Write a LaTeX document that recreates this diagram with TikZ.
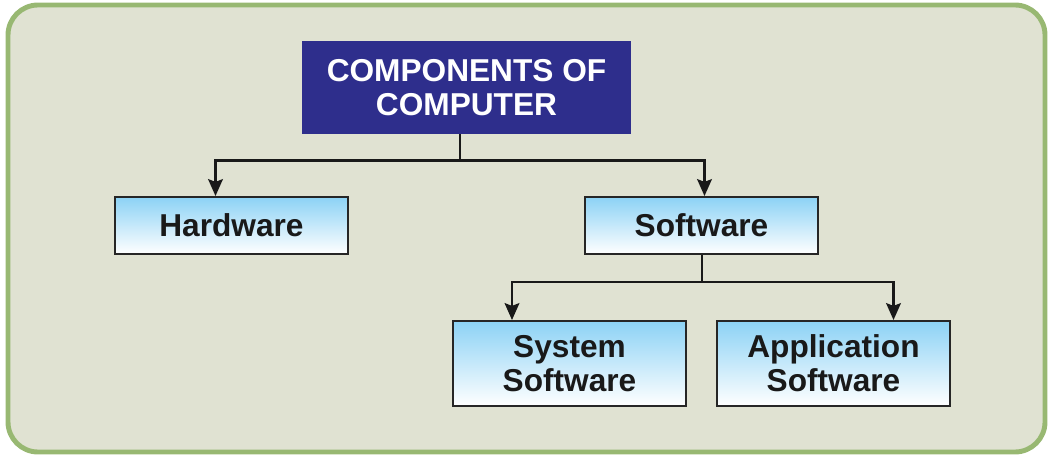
\documentclass[tikz,border=0pt]{standalone}
\usepackage{fontspec}
\setmainfont{Liberation Sans}
\usepackage{tikz}
\usetikzlibrary{arrows, arrows.meta, calc, positioning}
\tikzset{>={Stealth[length=12pt, width=10.5pt, inset=2pt]}}
\definecolor{panel}{RGB}{224,226,210}
\definecolor{panelline}{RGB}{152,184,114}
\definecolor{titleblue}{RGB}{46,46,140}
\definecolor{boxtop}{RGB}{140,210,245}
\tikzset{
  partbox/.style={draw=black!85, line width=1.4pt, top color=boxtop, bottom color=white,
    minimum width=5.825cm, inner sep=0pt, align=center, text=black!90,
    font=\fontsize{22.5}{24}\selectfont\bfseries},
  link/.style={line width=1.6pt, black!90}
}

\begin{document}
\begin{tikzpicture}[x=0.025cm, y=-0.025cm]
\useasboundingbox (0,0) rectangle (1051,458);
\draw[panelline, fill=panel, line width=3.5pt, rounded corners=0.75cm](8,5) rectangle (1045,452);
\node[fill=titleblue, text=white, minimum width=8.225cm, minimum height=2.325cm, inner sep=0pt,
  align=center, font=\fontsize{22.5}{24}\selectfont\bfseries] (comp) at (466.5,87.5) {COMPONENTS OF\\COMPUTER};
\node[partbox, minimum height=1.425cm] (hw) at (231.5,225.5) {Hardware};
\node[partbox, minimum height=1.425cm] (sw) at (701.5,225.5) {Software};
\node[partbox, minimum height=2.125cm] (sys) at (569.5,363.5) {System\\Software};
\node[partbox, minimum height=2.125cm] (app) at (833.5,363.5) {Application\\Software};
% junctions
\coordinate (j1) at (460,160.5);
\coordinate (j2) at (702,282);
\draw[link] (comp.south -| j1) -- (j1);
\draw[link, ->] (j1) -| ($(hw.north)+(-16,0)$);
\draw[link, ->] (j1) -| ($(sw.north)+(3,0)$);
\draw[link] (sw.south -| j2) -- (j2);
\draw[link, ->] (j2) -| ($(sys.north)+(-57.5,0)$);
\draw[link, ->] (j2) -| ($(app.north)+(60,0)$);
\end{tikzpicture}
\end{document}
